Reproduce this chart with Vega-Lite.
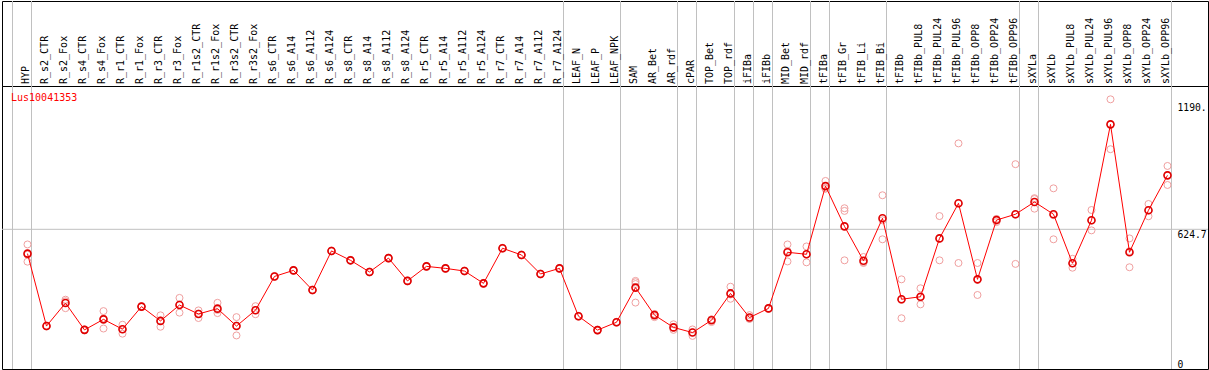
{
  "$schema": "https://vega.github.io/schema/vega-lite/v6.json",
  "background": "white",
  "padding": {"left": 1, "top": 0, "right": 0, "bottom": 0},
  "spacing": 0,
  "bounds": "flush",
  "config": {
    "view": {"stroke": "black", "strokeWidth": 1},
    "font": "DejaVu Sans Mono",
    "text": {"font": "DejaVu Sans Mono"}
  },
  "datasets": {
    "samples": [
      {"i": 0, "sample": "HYP", "mean": 516},
      {"i": 1, "sample": "R_s2_CTR", "mean": 192},
      {"i": 2, "sample": "R_s2_Fox", "mean": 295},
      {"i": 3, "sample": "R_s4_CTR", "mean": 175},
      {"i": 4, "sample": "R_s4_Fox", "mean": 222},
      {"i": 5, "sample": "R_r1_CTR", "mean": 178},
      {"i": 6, "sample": "R_r1_Fox", "mean": 279},
      {"i": 7, "sample": "R_r3_CTR", "mean": 215},
      {"i": 8, "sample": "R_r3_Fox", "mean": 286},
      {"i": 9, "sample": "R_r1s2_CTR", "mean": 246},
      {"i": 10, "sample": "R_r1s2_Fox", "mean": 270},
      {"i": 11, "sample": "R_r3s2_CTR", "mean": 192},
      {"i": 12, "sample": "R_r3s2_Fox", "mean": 263},
      {"i": 13, "sample": "R_s6_CTR", "mean": 414},
      {"i": 14, "sample": "R_s6_A14", "mean": 441},
      {"i": 15, "sample": "R_s6_A112", "mean": 353},
      {"i": 16, "sample": "R_s6_A124", "mean": 528},
      {"i": 17, "sample": "R_s8_CTR", "mean": 486},
      {"i": 18, "sample": "R_s8_A14", "mean": 434},
      {"i": 19, "sample": "R_s8_A112", "mean": 496},
      {"i": 20, "sample": "R_s8_A124", "mean": 394},
      {"i": 21, "sample": "R_r5_CTR", "mean": 459},
      {"i": 22, "sample": "R_r5_A14", "mean": 450},
      {"i": 23, "sample": "R_r5_A112", "mean": 438},
      {"i": 24, "sample": "R_r5_A124", "mean": 383},
      {"i": 25, "sample": "R_r7_CTR", "mean": 540},
      {"i": 26, "sample": "R_r7_A14", "mean": 510},
      {"i": 27, "sample": "R_r7_A112", "mean": 425},
      {"i": 28, "sample": "R_r7_A124", "mean": 450},
      {"i": 29, "sample": "LEAF_N", "mean": 236},
      {"i": 30, "sample": "LEAF_P", "mean": 174},
      {"i": 31, "sample": "LEAF_NPK", "mean": 209},
      {"i": 32, "sample": "SAM", "mean": 364},
      {"i": 33, "sample": "AR_Bet", "mean": 241},
      {"i": 34, "sample": "AR_rdf", "mean": 186},
      {"i": 35, "sample": "cPAR", "mean": 163},
      {"i": 36, "sample": "TOP_Bet", "mean": 218},
      {"i": 37, "sample": "TOP_rdf", "mean": 338},
      {"i": 38, "sample": "iFIBa", "mean": 230},
      {"i": 39, "sample": "iFIBb", "mean": 271},
      {"i": 40, "sample": "MID_Bet", "mean": 522},
      {"i": 41, "sample": "MID_rdf", "mean": 513},
      {"i": 42, "sample": "tFIBa", "mean": 818},
      {"i": 43, "sample": "tFIB_Gr", "mean": 638},
      {"i": 44, "sample": "tFIB_Li", "mean": 484},
      {"i": 45, "sample": "tFIB_Bi", "mean": 674},
      {"i": 46, "sample": "tFIBb", "mean": 312},
      {"i": 47, "sample": "tFIBb_PUL8", "mean": 323},
      {"i": 48, "sample": "tFIBb_PUL24", "mean": 584},
      {"i": 49, "sample": "tFIBb_PUL96", "mean": 741},
      {"i": 50, "sample": "tFIBb_OPP8", "mean": 401},
      {"i": 51, "sample": "tFIBb_OPP24", "mean": 666},
      {"i": 52, "sample": "tFIBb_OPP96", "mean": 692},
      {"i": 53, "sample": "sXYLa", "mean": 747},
      {"i": 54, "sample": "sXYLb", "mean": 692},
      {"i": 55, "sample": "sXYLb_PUL8", "mean": 473},
      {"i": 56, "sample": "sXYLb_PUL24", "mean": 665},
      {"i": 57, "sample": "sXYLb_PUL96", "mean": 1094},
      {"i": 58, "sample": "sXYLb_OPP8", "mean": 522},
      {"i": 59, "sample": "sXYLb_OPP24", "mean": 710},
      {"i": 60, "sample": "sXYLb_OPP96", "mean": 866}
    ],
    "reps": [
      {"i": 0, "value": 557}, {"i": 0, "value": 480}, {"i": 0, "value": 511},
      {"i": 1, "value": 192}, {"i": 1, "value": 190}, {"i": 1, "value": 194},
      {"i": 2, "value": 310}, {"i": 2, "value": 272}, {"i": 2, "value": 303},
      {"i": 3, "value": 175}, {"i": 3, "value": 173}, {"i": 3, "value": 177},
      {"i": 4, "value": 259}, {"i": 4, "value": 181}, {"i": 4, "value": 226},
      {"i": 5, "value": 198}, {"i": 5, "value": 158}, {"i": 5, "value": 178},
      {"i": 6, "value": 279}, {"i": 6, "value": 277}, {"i": 6, "value": 281},
      {"i": 7, "value": 240}, {"i": 7, "value": 189}, {"i": 7, "value": 216},
      {"i": 8, "value": 318}, {"i": 8, "value": 252}, {"i": 8, "value": 288},
      {"i": 9, "value": 262}, {"i": 9, "value": 228}, {"i": 9, "value": 248},
      {"i": 10, "value": 296}, {"i": 10, "value": 250}, {"i": 10, "value": 264},
      {"i": 11, "value": 232}, {"i": 11, "value": 150}, {"i": 11, "value": 194},
      {"i": 12, "value": 281}, {"i": 12, "value": 245}, {"i": 12, "value": 263},
      {"i": 13, "value": 414}, {"i": 13, "value": 412}, {"i": 13, "value": 416},
      {"i": 14, "value": 441}, {"i": 14, "value": 439}, {"i": 14, "value": 443},
      {"i": 15, "value": 353}, {"i": 15, "value": 351}, {"i": 15, "value": 355},
      {"i": 16, "value": 528}, {"i": 16, "value": 526}, {"i": 16, "value": 530},
      {"i": 17, "value": 486}, {"i": 17, "value": 484}, {"i": 17, "value": 488},
      {"i": 18, "value": 434}, {"i": 18, "value": 432}, {"i": 18, "value": 436},
      {"i": 19, "value": 496}, {"i": 19, "value": 494}, {"i": 19, "value": 498},
      {"i": 20, "value": 394}, {"i": 20, "value": 392}, {"i": 20, "value": 396},
      {"i": 21, "value": 459}, {"i": 21, "value": 457}, {"i": 21, "value": 461},
      {"i": 22, "value": 450}, {"i": 22, "value": 448}, {"i": 22, "value": 452},
      {"i": 23, "value": 438}, {"i": 23, "value": 436}, {"i": 23, "value": 440},
      {"i": 24, "value": 383}, {"i": 24, "value": 381}, {"i": 24, "value": 385},
      {"i": 25, "value": 540}, {"i": 25, "value": 538}, {"i": 25, "value": 542},
      {"i": 26, "value": 510}, {"i": 26, "value": 508}, {"i": 26, "value": 512},
      {"i": 27, "value": 425}, {"i": 27, "value": 423}, {"i": 27, "value": 427},
      {"i": 28, "value": 450}, {"i": 28, "value": 448}, {"i": 28, "value": 452},
      {"i": 29, "value": 236}, {"i": 29, "value": 234}, {"i": 29, "value": 238},
      {"i": 30, "value": 174}, {"i": 30, "value": 172}, {"i": 30, "value": 176},
      {"i": 31, "value": 209}, {"i": 31, "value": 207}, {"i": 31, "value": 211},
      {"i": 32, "value": 394}, {"i": 32, "value": 388}, {"i": 32, "value": 380}, {"i": 32, "value": 297},
      {"i": 33, "value": 232}, {"i": 33, "value": 245}, {"i": 33, "value": 246},
      {"i": 34, "value": 200}, {"i": 34, "value": 175}, {"i": 34, "value": 184},
      {"i": 35, "value": 177}, {"i": 35, "value": 148}, {"i": 35, "value": 164},
      {"i": 36, "value": 210}, {"i": 36, "value": 222}, {"i": 36, "value": 222},
      {"i": 37, "value": 368}, {"i": 37, "value": 314}, {"i": 37, "value": 333},
      {"i": 38, "value": 241}, {"i": 38, "value": 225}, {"i": 38, "value": 224},
      {"i": 39, "value": 271}, {"i": 39, "value": 269}, {"i": 39, "value": 273},
      {"i": 40, "value": 557}, {"i": 40, "value": 481}, {"i": 40, "value": 528},
      {"i": 41, "value": 548}, {"i": 41, "value": 477}, {"i": 41, "value": 514},
      {"i": 42, "value": 841}, {"i": 42, "value": 806}, {"i": 42, "value": 808},
      {"i": 43, "value": 719}, {"i": 43, "value": 707}, {"i": 43, "value": 486},
      {"i": 44, "value": 501}, {"i": 44, "value": 478}, {"i": 44, "value": 474},
      {"i": 45, "value": 777}, {"i": 45, "value": 580}, {"i": 45, "value": 665},
      {"i": 46, "value": 401}, {"i": 46, "value": 227}, {"i": 46, "value": 309},
      {"i": 47, "value": 361}, {"i": 47, "value": 289}, {"i": 47, "value": 320},
      {"i": 48, "value": 684}, {"i": 48, "value": 486}, {"i": 48, "value": 583},
      {"i": 49, "value": 1009}, {"i": 49, "value": 474}, {"i": 49, "value": 740},
      {"i": 50, "value": 474}, {"i": 50, "value": 331}, {"i": 50, "value": 398},
      {"i": 51, "value": 657}, {"i": 51, "value": 670}, {"i": 51, "value": 671},
      {"i": 52, "value": 916}, {"i": 52, "value": 470}, {"i": 52, "value": 690},
      {"i": 53, "value": 760}, {"i": 53, "value": 764}, {"i": 53, "value": 717},
      {"i": 54, "value": 808}, {"i": 54, "value": 580}, {"i": 54, "value": 688},
      {"i": 55, "value": 493}, {"i": 55, "value": 453}, {"i": 55, "value": 473},
      {"i": 56, "value": 711}, {"i": 56, "value": 620}, {"i": 56, "value": 664},
      {"i": 57, "value": 1206}, {"i": 57, "value": 983}, {"i": 57, "value": 1093},
      {"i": 58, "value": 584}, {"i": 58, "value": 455}, {"i": 58, "value": 527},
      {"i": 59, "value": 738}, {"i": 59, "value": 683}, {"i": 59, "value": 709},
      {"i": 60, "value": 908}, {"i": 60, "value": 823}, {"i": 60, "value": 867}
    ],
    "seps": [
      {"after": -1}, {"after": 0}, {"after": 28}, {"after": 31}, {"after": 34},
      {"after": 35}, {"after": 37}, {"after": 38}, {"after": 39}, {"after": 41},
      {"after": 42}, {"after": 45}, {"after": 52}, {"after": 53}, {"after": 60}
    ],
    "gene": [{"name": "Lus10041353"}],
    "ref": [{"level": 624.7}]
  },
  "vconcat": [
    {
      "width": 1206,
      "height": 85,
      "layer": [
        {
          "data": {"name": "seps"},
          "mark": {"type": "rule", "color": "#c0c0c0", "strokeWidth": 1, "xOffset": 4},
          "encoding": {
            "x": {"field": "after", "type": "quantitative", "scale": {"domain": [-1.342, 62.132], "nice": false, "zero": false}, "axis": null}
          }
        },
        {
          "data": {"name": "samples"},
          "mark": {"type": "text", "angle": 270, "align": "left", "baseline": "middle", "dx": 2, "dy": -1, "fontSize": 10, "color": "black", "font": "DejaVu Sans Mono"},
          "encoding": {
            "x": {"field": "i", "type": "quantitative", "scale": {"domain": [-1.342, 62.132], "nice": false, "zero": false}, "axis": null},
            "y": {"datum": 0, "type": "quantitative", "scale": {"domain": [0, 1]}, "axis": null},
            "text": {"field": "sample", "type": "nominal"}
          }
        }
      ]
    },
    {
      "width": 1206,
      "height": 283,
      "layer": [
        {
          "data": {"name": "seps"},
          "mark": {"type": "rule", "color": "#c0c0c0", "strokeWidth": 1, "xOffset": 4},
          "encoding": {
            "x": {"field": "after", "type": "quantitative", "scale": {"domain": [-1.342, 62.132], "nice": false, "zero": false}, "axis": null}
          }
        },
        {
          "data": {"name": "ref"},
          "mark": {"type": "rule", "color": "#c0c0c0", "strokeWidth": 1},
          "encoding": {
            "y": {"field": "level", "type": "quantitative", "scale": {"domain": [0, 1265.6], "nice": false, "zero": true}}
          }
        },
        {
          "data": {"name": "reps"},
          "mark": {"type": "point", "shape": "circle", "filled": false, "size": 49, "strokeWidth": 1, "color": "#f0a0a0", "opacity": 1},
          "encoding": {
            "x": {"field": "i", "type": "quantitative", "scale": {"domain": [-1.342, 62.132], "nice": false, "zero": false}, "axis": null},
            "y": {
              "field": "value", "type": "quantitative",
              "scale": {"domain": [0, 1265.6], "nice": false, "zero": true},
              "axis": {
                "orient": "right", "offset": -33, "title": null,
                "values": [0, 624.7, 1190],
                "labelExpr": "datum.value == 1190 ? '1190.' : '' + datum.value",
                "labelFont": "DejaVu Sans Mono", "labelFontSize": 9.7, "labelColor": "black",
                "labelAlign": "left", "labelPadding": 2, "labelFlush": false,
                "labelBaseline": {"condition": {"test": "datum.value == 0", "value": "bottom"}, "value": "top"},
                "ticks": false, "domain": false, "grid": false
              }
            }
          }
        },
        {
          "data": {"name": "samples"},
          "mark": {"type": "line", "color": "#ff0000", "strokeWidth": 1},
          "encoding": {
            "x": {"field": "i", "type": "quantitative", "scale": {"domain": [-1.342, 62.132], "nice": false, "zero": false}, "axis": null},
            "y": {"field": "mean", "type": "quantitative", "scale": {"domain": [0, 1265.6], "nice": false, "zero": true}}
          }
        },
        {
          "data": {"name": "samples"},
          "mark": {"type": "point", "shape": "circle", "filled": false, "size": 49, "strokeWidth": 1.6, "color": "#e00000", "opacity": 1},
          "encoding": {
            "x": {"field": "i", "type": "quantitative", "scale": {"domain": [-1.342, 62.132], "nice": false, "zero": false}, "axis": null},
            "y": {"field": "mean", "type": "quantitative", "scale": {"domain": [0, 1265.6], "nice": false, "zero": true}}
          }
        },
        {
          "data": {"name": "gene"},
          "mark": {"type": "text", "align": "left", "baseline": "middle", "fontSize": 10, "color": "#ff0000", "font": "DejaVu Sans Mono"},
          "encoding": {
            "x": {"datum": -0.868, "type": "quantitative", "scale": {"domain": [-1.342, 62.132], "nice": false, "zero": false}, "axis": null},
            "y": {"datum": 1212, "type": "quantitative", "scale": {"domain": [0, 1265.6], "nice": false, "zero": true}},
            "text": {"field": "name", "type": "nominal"}
          }
        }
      ]
    }
  ]
}
